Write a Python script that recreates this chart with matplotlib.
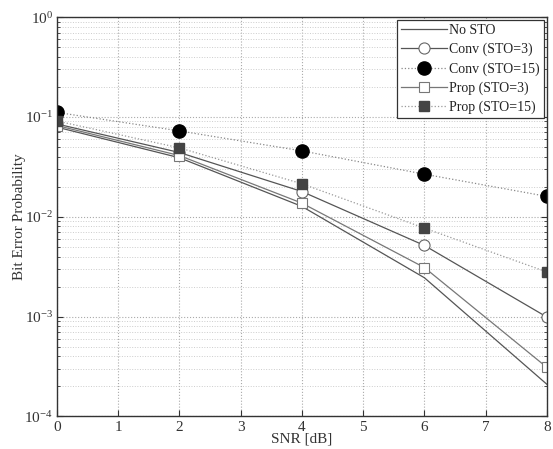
import matplotlib
matplotlib.use("Agg")
import matplotlib.pyplot as plt
from matplotlib.ticker import LogLocator, NullFormatter

plt.rcParams['font.family'] = ['Liberation Serif', 'DejaVu Serif']
plt.rcParams['mathtext.fontset'] = 'custom'
plt.rcParams['mathtext.rm'] = 'Liberation Serif'

snr = [0, 2, 4, 6, 8]
no_sto = [0.079, 0.039, 0.0127, 0.00245, 0.00021]
conv3 = [0.085, 0.044, 0.0179, 0.00516, 0.00099]
conv15 = [0.111, 0.0724, 0.0457, 0.0267, 0.016]
prop3 = [0.082, 0.041, 0.0137, 0.0031, 0.00031]
prop15 = [0.091, 0.049, 0.0214, 0.0077, 0.0028]

fig = plt.figure(figsize=(5.53, 4.49), dpi=100)
ax = fig.add_axes([0.103, 0.0724, 0.886, 0.8896])

ax.plot(snr, no_sto, '-', color='#555555', lw=0.9, label='No STO')
ax.plot(snr, conv3, '-', color='#555555', lw=0.9, marker='o', ms=8,
        mfc='white', mec='#666666', mew=0.8, label='Conv (STO=3)')
ax.plot(snr, conv15, ':', color='#888888', lw=0.9, marker='o', ms=9.5,
        mfc='black', mec='black', label='Conv (STO=15)')
ax.plot(snr, prop3, '-', color='#777777', lw=0.9, marker='s', ms=6.5,
        mfc='white', mec='#777777', mew=0.8, label='Prop (STO=3)')
ax.plot(snr, prop15, ':', color='#999999', lw=0.9, marker='s', ms=6.5,
        mfc='#444444', mec='#444444', label='Prop (STO=15)')

ax.set_yscale('log')
ax.set_ylim(1e-4, 1)
ax.set_xlim(0, 8)
ax.set_xticks(range(0, 9))
ax.yaxis.set_major_locator(LogLocator(base=10, numticks=10))
ax.yaxis.set_minor_locator(LogLocator(base=10, subs=range(2, 10), numticks=50))
ax.yaxis.set_minor_formatter(NullFormatter())

ax.grid(True, which='major', axis='both', ls=':', color='#aaaaaa', lw=0.8)
ax.grid(True, which='minor', axis='y', ls=':', color='#cccccc', lw=0.7)

ax.tick_params(axis='both', which='both', direction='in', labelsize=11,
               colors='#333333', length=4, pad=3)
ax.tick_params(which='minor', length=2)
ax.tick_params(right=True, top=False, which='both')
for s in ax.spines.values():
    s.set_color('#333333')
    s.set_linewidth(1.0)

ax.set_xlabel('SNR [dB]', fontsize=11, color='#333333', labelpad=-1)
ax.set_ylabel('Bit Error Probability', fontsize=11, color='#333333', labelpad=-1)

leg = ax.legend(loc='upper right', fontsize=10, frameon=True, fancybox=False,
                edgecolor='#333333', framealpha=1, borderpad=0.3,
                labelspacing=0.42, handlelength=3.3, handletextpad=0.2,
                borderaxespad=0.2)
leg.get_frame().set_linewidth(0.9)
for t in leg.get_texts():
    t.set_color('#222222')

fig.savefig('out.png', dpi=100)
